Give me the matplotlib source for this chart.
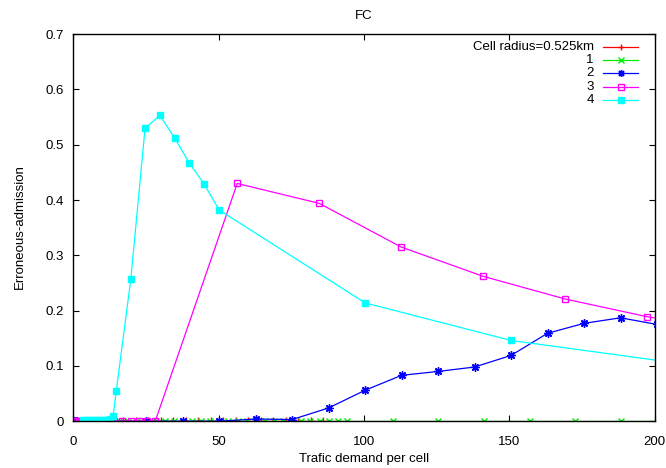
import matplotlib
matplotlib.use('Agg')
import matplotlib.pyplot as plt

plt.rcParams['font.family'] = ['Liberation Sans', 'DejaVu Sans']

# Series data
red_x = [4.3, 8.6, 12.9, 17.2, 21.5, 25.8, 30.1, 34.4, 38.7, 43.0,
         47.3, 51.6, 55.9, 60.2, 64.5, 68.8, 73.1, 77.4, 81.7, 86.0]
red_y = [0.0] * len(red_x)

green_x = [0.5, 3.1, 6.3, 9.4, 12.6, 15.7, 18.8, 22.0, 25.1, 28.3, 31.4,
           34.5, 37.7, 40.8, 44.0, 47.1, 50.2, 53.4, 56.5, 59.7, 62.8,
           65.9, 69.1, 72.2, 75.4, 78.5, 81.6, 84.8, 87.9, 91.1, 94.2,
           109.9, 125.6, 141.3, 157.0, 172.7, 188.4, 204.1]
green_y = [0.0] * len(green_x)

blue_x = [0.3, 0.8, 1.3, 12.55, 25.1, 37.65, 50.2, 62.75, 75.3, 87.85,
          100.4, 112.95, 125.5, 138.05, 150.6, 163.15, 175.7, 188.25, 200.8]
blue_y = [0.0, 0.0, 0.0, 0.0, 0.0, 0.0, 0.0, 0.004, 0.003, 0.024,
          0.056, 0.083, 0.090, 0.098, 0.119, 0.159, 0.177, 0.187, 0.175]

mag_x = [0.3, 0.8, 1.4, 2.0, 2.82, 5.64, 8.46, 11.28, 14.1, 16.92, 19.74,
         22.56, 25.38, 28.2, 56.4, 84.6, 112.8, 141.0, 169.2, 197.4, 225.6]
mag_y = [0.0, 0.0, 0.0, 0.0, 0.0, 0.0, 0.0, 0.0, 0.0, 0.0, 0.0,
         0.0, 0.0, 0.0, 0.430, 0.394, 0.315, 0.262, 0.221, 0.189, 0.165]

cyan_x = [3.5, 4.5, 5.5, 6.5, 7.5, 8.5, 9.5, 10.5, 11.5, 12.5, 13.7,
          14.8, 19.8, 24.7, 29.8, 34.9, 39.9, 45.0, 50.2, 100.4, 150.6, 250.0]
cyan_y = [0.002, 0.002, 0.002, 0.002, 0.002, 0.002, 0.002, 0.003, 0.003,
          0.004, 0.009, 0.055, 0.257, 0.530, 0.553, 0.512, 0.467, 0.429,
          0.382, 0.214, 0.146, 0.075]

labels = ['Cell radius=0.525km', '1', '2', '3', '4']
colors = ['#ff0000', '#00ee00', '#0000ff', '#ff00ff', '#00ffff']
x_ticks = [0, 50, 100, 150, 200]
y_ticks = [0, 0.1, 0.2, 0.3, 0.4, 0.5, 0.6, 0.7]
y_ticklabels = ['0', '0.1', '0.2', '0.3', '0.4', '0.5', '0.6', '0.7']

fs = 9.5

fig = plt.figure(figsize=(6.66, 4.68), dpi=100)
ax = fig.add_axes([0.110, 0.100, 0.873, 0.827])

styles = [
    dict(marker='+', ms=6, mew=1.0, mfc='none'),
    dict(marker='x', ms=5, mew=1.0, mfc='none'),
    dict(marker=(8, 2, 0), ms=6, mew=1.0, mfc='none'),
    dict(marker='s', ms=5, mew=1.0, mfc='none'),
    dict(marker='s', ms=5, mew=1.0),
]
series = [(red_x, red_y), (green_x, green_y), (blue_x, blue_y),
          (mag_x, mag_y), (cyan_x, cyan_y)]

for (xs, ys), c, st in zip(series, colors, styles):
    ax.plot(xs, ys, color=c, lw=0.9, mec=c,
            mfc=st.pop('mfc', c), **st)

ax.set_xlim(0, 200)
ax.set_ylim(0, 0.7)
ax.set_xticks(x_ticks)
ax.set_yticks(y_ticks)
ax.set_yticklabels(y_ticklabels)
ax.tick_params(direction='in', length=4.5, width=0.8, top=True, right=True,
               labelsize=fs, colors='black')
ax.tick_params(axis='y', pad=7)
ax.tick_params(axis='x', pad=10.5)
for s in ax.spines.values():
    s.set_linewidth(1.0)

ax.set_title('FC', fontsize=fs, pad=11)
ax.set_xlabel('Trafic demand per cell', fontsize=fs)
ax.set_ylabel('Erroneous-admission', fontsize=fs)
ax.xaxis.set_label_coords(0.5, -0.082)
ax.yaxis.set_label_coords(-0.082, 0.502)

# gnuplot-style key: right-aligned text, sample line to the right
key_markers = [('+', 'none'), ('x', 'none'), ((8, 2, 0), 'none'),
               ('s', 'none'), ('s', None)]
row_y = 0.967
for lab, c, (mk, fc) in zip(labels, colors, key_markers):
    ax.text(0.895, row_y, lab, transform=ax.transAxes, ha='right',
            va='center', fontsize=fs)
    ax.plot([0.911, 0.972], [row_y, row_y], transform=ax.transAxes,
            color=c, lw=0.9, clip_on=False)
    ax.plot([0.9415], [row_y], transform=ax.transAxes, color=c,
            marker=mk, ms=5, mew=1.0, mec=c,
            mfc=c if fc is None else fc, clip_on=False)
    row_y -= 0.0343

fig.savefig('out.png', dpi=100)
